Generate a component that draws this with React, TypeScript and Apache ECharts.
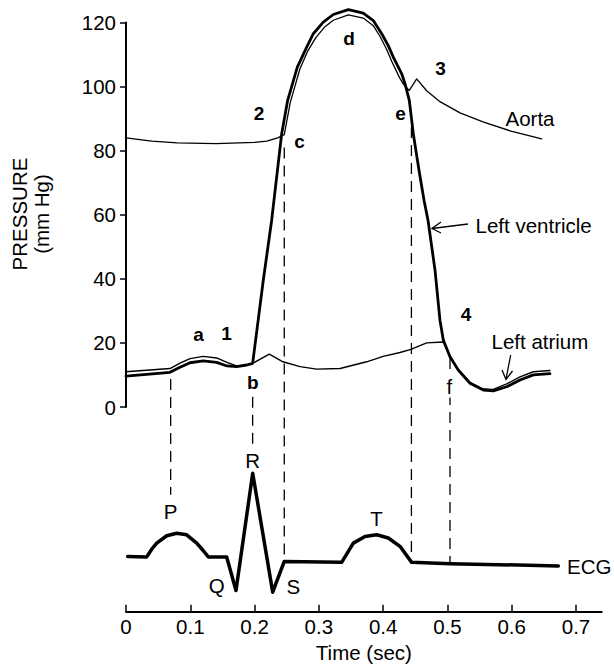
import React, { useEffect, useRef } from "react";
import * as echarts from "echarts";

const FONT = '"Liberation Sans", Arial, Helvetica, sans-serif';

// time ticks (sec)
const TIME_TICKS = [0, 0.1, 0.2, 0.3, 0.4, 0.5, 0.6, 0.7];
const TIME_MAX = 0.74;
const P_MAX = 120;
const P_MIN_FULL = -63.9; // pressure units below 0 down to the time axis

// [time (s), pressure (mm Hg)]
const aorta: [number, number][] = [
  [0, 84.0], [0.04, 83.0], [0.08, 82.4], [0.14, 82.2], [0.2, 82.6], [0.219, 83.0],
  [0.236, 84.0], [0.2462, 85.0], [0.2555, 95.0], [0.2705, 105.5], [0.2825, 111.0],
  [0.295, 115.2], [0.3085, 118.5], [0.3225, 120.7], [0.3458, 122.4], [0.3691, 121.4],
  [0.3847, 119.0], [0.395, 115.7], [0.405, 111.8], [0.4135, 107.8], [0.4255, 102.8],
  [0.432, 100.6], [0.4407, 98.8], [0.4522, 102.4], [0.4677, 98.7], [0.4884, 95.3],
  [0.5196, 91.8], [0.5553, 89.0], [0.5973, 86.2], [0.6466, 83.7],
];

const leftVentricle: [number, number][] = [
  [0, 9.6], [0.0684, 10.8], [0.084, 12.4], [0.0996, 13.8], [0.12, 14.4], [0.141, 13.9],
  [0.157, 12.8], [0.172, 12.6], [0.188, 13.1], [0.197, 13.6], [0.2136, 39.6], [0.2266, 58.3],
  [0.2422, 85.3], [0.2515, 95.7], [0.2665, 106.1], [0.2811, 112.3], [0.2914, 116.5],
  [0.3069, 120.1], [0.3225, 122.5], [0.3458, 124.0], [0.3691, 122.9], [0.3847, 120.6],
  [0.3978, 116.5], [0.408, 112.8], [0.4158, 109.2], [0.4289, 104.0], [0.434, 100.9],
  [0.4407, 95.7], [0.4469, 85.3], [0.4558, 73.9], [0.4636, 64.5], [0.4698, 58.3],
  [0.4807, 42.7], [0.4884, 27.1], [0.4936, 20.9], [0.504, 15.7], [0.5169, 11.5],
  [0.5351, 7.4], [0.5558, 5.3], [0.5714, 5.0], [0.5922, 6.3], [0.6129, 8.4],
  [0.6336, 10.0], [0.6595, 10.4],
];

const leftAtrium: [number, number][] = [
  [0, 11.0], [0.0684, 12.0], [0.084, 13.7], [0.0996, 15.1], [0.12, 15.8], [0.141, 15.3],
  [0.157, 13.9], [0.172, 12.8], [0.188, 13.1], [0.197, 13.6], [0.2229, 16.5], [0.2442, 14.1],
  [0.2707, 12.6], [0.2966, 11.8], [0.333, 12.0], [0.3744, 14.1], [0.4, 15.8], [0.4262, 17.0],
  [0.4433, 18.0], [0.46, 19.4], [0.4678, 20.0], [0.4936, 20.3], [0.504, 15.9], [0.5169, 11.8],
  [0.5351, 7.7], [0.5558, 5.6], [0.5714, 5.5], [0.5922, 7.2], [0.6129, 9.4], [0.6336, 11.0],
  [0.6595, 11.4],
];

// ECG trace drawn on the same pressure scale, below zero
const ecg: [number, number][] = [
  [0.0026, -46.7], [0.0322, -46.8], [0.04, -44.4], [0.0478, -42.5], [0.0633, -40.2],
  [0.0789, -39.4], [0.0944, -39.9], [0.11, -42.5], [0.12, -44.8], [0.128, -46.8],
  [0.1566, -46.8], [0.1711, -57.3], [0.1971, -20.7], [0.2282, -57.8], [0.2462, -48.2],
  [0.3355, -48.5], [0.3536, -42.5], [0.3718, -40.4], [0.39, -39.9], [0.408, -40.9],
  [0.4262, -43.5], [0.4444, -48.5], [0.504, -48.9], [0.6725, -49.6],
];

// vertical dashed event markers
const markerTimes = [0.0695, 0.197, 0.2462, 0.444, 0.504];
const markerTop = [8.7, 3.2, 81.0, 87.4, 15.3];
const markerBottom = [-27.4, -11.8, -47.7, -45.5, -48.7];

const formatTime = (v: number) => (Math.abs(v) < 1e-9 ? "0" : v.toFixed(1));

export default function App() {
  const ref = useRef<HTMLDivElement>(null);

  useEffect(() => {
    const chart = echarts.init(ref.current!, null, { renderer: "svg" });

    const lineSeries = (name: string, data: [number, number][], width: number, extra: any = {}) => ({
      type: "line",
      name,
      xAxisIndex: 1,
      yAxisIndex: 1,
      data,
      showSymbol: false,
      symbol: "none",
      clip: false,
      silent: true,
      lineStyle: { color: "#000", width, join: "round", cap: "round", ...extra },
      z: 3,
    });

    const dashSeries = markerTimes.map((t, i) => ({
      type: "line",
      name: "marker" + i,
      xAxisIndex: 1,
      yAxisIndex: 1,
      data: [
        [t, markerTop[i]],
        [t, markerBottom[i]],
      ],
      showSymbol: false,
      symbol: "none",
      clip: false,
      silent: true,
      lineStyle: { color: "#000", width: 1.3, type: [11, 7] },
      z: 2,
    }));

    const bold = (text: string, x: number, y: number) => ({
      type: "text",
      x,
      y,
      z: 100,
      style: {
        text,
        fill: "#000",
        fontFamily: FONT,
        fontSize: 19,
        fontWeight: "bold",
        align: "center",
        verticalAlign: "middle",
      },
    });
    const reg = (text: string, x: number, y: number, align = "center", extra: any = {}) => ({
      type: "text",
      x,
      y,
      z: 100,
      style: {
        text,
        fill: "#000",
        fontFamily: FONT,
        fontSize: 20.5,
        align,
        verticalAlign: "middle",
        ...extra,
      },
    });
    const seg = (x1: number, y1: number, x2: number, y2: number) => ({
      type: "line",
      z: 100,
      shape: { x1, y1, x2, y2 },
      style: { stroke: "#000", lineWidth: 1.3 },
    });
    const head = (pts: number[][]) => ({
      type: "polyline",
      z: 100,
      shape: { points: pts },
      style: { stroke: "#000", lineWidth: 1.3, fill: null },
    });

    const option: any = {
      animation: false,
      backgroundColor: "#fff",
      textStyle: { fontFamily: FONT },
      grid: [
        { left: 126, top: 22.5, width: 475.7, height: 384.5 },
        { left: 126, top: 22.5, width: 475.7, height: 589.2 },
      ],
      xAxis: [
        { gridIndex: 0, type: "value", min: 0, max: TIME_MAX, show: false },
        {
          gridIndex: 1,
          type: "value",
          min: 0,
          max: TIME_MAX,
          interval: 0.1,
          splitLine: { show: false },
          axisLine: { show: true, onZero: false, lineStyle: { color: "#000", width: 2 } },
          axisTick: {
            show: true,
            inside: true,
            length: 7,
            customValues: TIME_TICKS,
            lineStyle: { color: "#000", width: 1.5 },
          },
          axisLabel: {
            customValues: TIME_TICKS,
            formatter: formatTime,
            color: "#000",
            fontSize: 20.5,
            fontFamily: FONT,
            margin: 4,
          },
          name: "Time (sec)",
          nameLocation: "middle",
          nameGap: 30,
          nameTextStyle: { color: "#000", fontSize: 20.5, fontFamily: FONT },
        },
      ],
      yAxis: [
        {
          gridIndex: 0,
          type: "value",
          min: 0,
          max: P_MAX,
          interval: 20,
          splitLine: { show: false },
          axisLine: { show: true, lineStyle: { color: "#000", width: 2 } },
          axisTick: { show: true, length: 6, lineStyle: { color: "#000", width: 1.5 } },
          axisLabel: { color: "#000", fontSize: 20.5, fontFamily: FONT, margin: 10 },
        },
        { gridIndex: 1, type: "value", min: P_MIN_FULL, max: P_MAX, show: false },
      ],
      series: [
        ...dashSeries,
        lineSeries("Aorta", aorta, 1.3),
        lineSeries("Left atrium", leftAtrium, 1.4),
        lineSeries("Left ventricle", leftVentricle, 2.8),
        lineSeries("ECG", ecg, 3.5),
      ],
      graphic: [
        {
          type: "text",
          x: 30.5,
          y: 214,
          rotation: Math.PI / 2,
          z: 100,
          style: {
            text: "PRESSURE\n(mm Hg)",
            fill: "#000",
            fontFamily: FONT,
            fontSize: 20.5,
            lineHeight: 22,
            align: "center",
            verticalAlign: "middle",
          },
        },
        bold("2", 259, 113.5),
        bold("c", 299.5, 141.5),
        bold("d", 349, 38.5),
        bold("3", 440.5, 68),
        bold("e", 400.5, 113.5),
        bold("4", 466, 314),
        bold("a", 198.5, 334),
        bold("1", 226.5, 333.5),
        bold("b", 252.7, 382),
        reg("f", 449.3, 386, "center", { backgroundColor: "#fff", padding: [1, 1] }),
        reg("Aorta", 530, 118.5),
        reg("Left ventricle", 475.5, 225, "left"),
        reg("Left atrium", 491.5, 341, "left"),
        reg("P", 170.7, 511),
        reg("R", 252.7, 460),
        reg("Q", 216.7, 585),
        reg("S", 293.3, 586.5),
        reg("T", 376.5, 518),
        reg("ECG", 567, 566, "left"),
        seg(468, 224, 432, 228.5),
        head([
          [441, 222],
          [432, 228.5],
          [441, 233],
        ]),
        seg(510.7, 355, 506, 379),
        head([
          [502, 370],
          [506, 379.5],
          [512.5, 371],
        ]),
      ],
    };

    chart.setOption(option);
    return () => chart.dispose();
  }, []);

  return (
    <div
      ref={ref}
      style={{ position: "fixed", left: 0, top: 0, width: 614, height: 672, background: "#fff" }}
    />
  );
}
